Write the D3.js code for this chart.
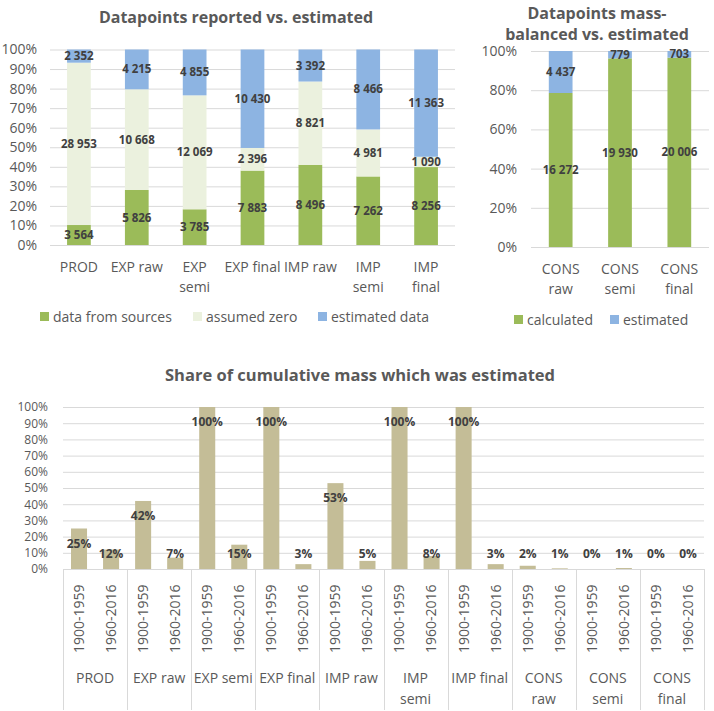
<!DOCTYPE html>
<html><head><meta charset="utf-8">
<script src="https://cdn.jsdelivr.net/npm/d3@7"></script>
<style>
body{margin:0;background:#fff;}
svg{display:block;font-family:"Open Sans",sans-serif;}
</style></head>
<body><svg id="c" width="714" height="711"></svg>
<script>
// ---- Chart 1: Datapoints reported vs. estimated ----
const cats1 = ["PROD","EXP raw","EXP semi","EXP final","IMP raw","IMP semi","IMP final"];
const fromSources = [3564,5826,3785,7883,8496,7262,8256];
const assumedZero = [28953,10668,12069,2396,8821,4981,1090];
const estimatedData = [2352,4215,4855,10430,3392,8466,11363];
const series1Names = ["data from sources","assumed zero","estimated data"];
const wrap1 = ["EXP semi","IMP semi","IMP final"];
const ticks1 = [0,0.1,0.2,0.3,0.4,0.5,0.6,0.7,0.8,0.9,1];

// ---- Chart 2: Datapoints mass-balanced vs. estimated ----
const cats2 = ["CONS raw","CONS semi","CONS final"];
const calculated = [16272,19930,20006];
const estimated2 = [4437,779,703];
const series2Names = ["calculated","estimated"];
const ticks2 = [0,0.2,0.4,0.6,0.8,1];

// ---- Chart 3: Share of cumulative mass which was estimated ----
const groups3 = ["PROD","EXP raw","EXP semi","EXP final","IMP raw","IMP semi","IMP final","CONS raw","CONS semi","CONS final"];
const wrap3 = ["IMP semi","CONS raw","CONS semi","CONS final"];
const periods = ["1900-1959","1960-2016"];
const share = [0.25,0.12, 0.42,0.07, 1.00,0.15, 1.00,0.03, 0.53,0.05, 1.00,0.08, 1.00,0.03, 0.02,0.01, 0.00,0.01, 0.00,0.00];
const shareLabels = ["25%","12%","42%","7%","100%","15%","100%","3%","53%","5%","100%","8%","100%","3%","2%","1%","0%","1%","0%","0%"];
// bar heights as visible in the picture (small values)
const shareBar = [0.25,0.12, 0.42,0.07, 1.00,0.15, 1.00,0.03, 0.53,0.05, 1.00,0.08, 1.00,0.03, 0.02,0.004, 0.0,0.006, 0.0,0.0];
const ticks3 = [0,0.1,0.2,0.3,0.4,0.5,0.6,0.7,0.8,0.9,1];

const GREEN="#9BBB59", LIGHT="#EBF1DE", BLUE="#8DB4E2", TAN="#C4BD97";
const GRID="#D9D9D9", AXT="#595959", LAB="#404040";
const fmt = v => d3.format(",")(v).replace(/,/g," ");
const pct = d3.format(".0%");

const svg = d3.select("#c");

function title(g, lines, x, y, lh, fs){
  lines.forEach((t,i)=>g.append("text").attr("x",x).attr("y",y+i*lh)
    .attr("text-anchor","middle").attr("font-size",fs).attr("font-weight","bold")
    .attr("fill",AXT).text(t));
}
function legend(g, items, y){
  items.forEach(it=>{
    g.append("rect").attr("x",it.x).attr("y",y-5).attr("width",9).attr("height",9).attr("fill",it.c);
    g.append("text").attr("x",it.x+13).attr("y",y).attr("dy","0.35em").attr("font-size",14)
      .attr("fill",AXT).text(it.t);
  });
}
function stacked(cfg){
  const g = svg.append("g");
  const x = d3.scaleBand().domain(cfg.cats).range([cfg.x0,cfg.x1]).paddingInner(cfg.pad).paddingOuter(cfg.pad/2);
  const y = d3.scaleLinear().domain([0,1]).range([cfg.y0,cfg.y1]);
  g.append("g").selectAll("line").data(cfg.ticks).join("line")
    .attr("x1",cfg.x0).attr("x2",cfg.x1).attr("y1",d=>y(d)+0.5).attr("y2",d=>y(d)+0.5)
    .attr("stroke",GRID).attr("stroke-width",1);
  const yAx = d3.axisLeft(y).tickValues(cfg.ticks).tickFormat(pct).tickSize(0).tickPadding(0);
  const ya = g.append("g").attr("transform",`translate(${cfg.labX},0)`).call(yAx);
  ya.select(".domain").remove();
  ya.selectAll("text").attr("font-size",14).attr("fill",AXT).attr("font-family","Open Sans");
  const rows = cfg.cats.map((c,i)=>{const o={cat:c}; cfg.keys.forEach((k,j)=>o[k]=cfg.vals[j][i]); return o;});
  const st = d3.stack().keys(cfg.keys).offset(d3.stackOffsetExpand)(rows);
  st.forEach((layer,j)=>{
    g.append("g").selectAll("rect").data(layer).join("rect")
      .attr("x",d=>x(d.data.cat)).attr("width",x.bandwidth())
      .attr("y",d=>y(d[1])).attr("height",d=>y(d[0])-y(d[1])).attr("fill",cfg.colors[j]);
  });
  st.forEach((layer,j)=>{
    g.append("g").selectAll("text").data(layer).join("text")
      .attr("x",d=>x(d.data.cat)+x.bandwidth()/2).attr("y",d=>y((d[0]+d[1])/2))
      .attr("dy","0.35em").attr("text-anchor","middle").attr("font-size",11.5)
      .attr("font-weight","bold").attr("fill",LAB).text(d=>fmt(d.data[layer.key]));
  });
  cfg.cats.forEach(c=>{
    const lines = cfg.wrap.includes(c) ? c.split(" ") : [c];
    lines.forEach((t,i)=>g.append("text").attr("x",x(c)+x.bandwidth()/2).attr("y",cfg.catY+i*20)
      .attr("dy","0.35em").attr("text-anchor","middle").attr("font-size",14).attr("fill",AXT).text(t));
  });
  return g;
}

// Chart 1
const g1 = stacked({cats:cats1, keys:series1Names, vals:[fromSources,assumedZero,estimatedData],
  colors:[GREEN,LIGHT,BLUE], x0:50, x1:455, y0:245, y1:49.5, pad:0.59, ticks:ticks1, labX:37,
  wrap:wrap1, catY:267});
title(g1,["Datapoints reported vs. estimated"],236,23,20,16);
legend(g1,[{x:40,c:GREEN,t:series1Names[0]},{x:193,c:LIGHT,t:series1Names[1]},{x:318,c:BLUE,t:series1Names[2]}],317);

// Chart 2
const g2 = stacked({cats:cats2, keys:series2Names, vals:[calculated,estimated2],
  colors:[GREEN,BLUE], x0:531, x1:709, y0:247, y1:51, pad:0.6, ticks:ticks2, labX:517,
  wrap:cats2, catY:269});
title(g2,["Datapoints mass-","balanced vs. estimated"],597,18.5,21,16);
legend(g2,[{x:514,c:GREEN,t:series2Names[0]},{x:610,c:BLUE,t:series2Names[1]}],320);

// Chart 3
(function(){
  const g = svg.append("g");
  const X0=63, X1=704, Y0=569, Y1=407;
  const gx = d3.scaleBand().domain(groups3).range([X0,X1]);
  const sx = d3.scaleBand().domain(periods).range([0,gx.bandwidth()]).paddingInner(0.5).paddingOuter(0.25);
  const y = d3.scaleLinear().domain([0,1]).range([Y0,Y1]);
  g.append("g").selectAll("line").data(ticks3).join("line")
    .attr("x1",X0).attr("x2",X1).attr("y1",d=>y(d)+0.5).attr("y2",d=>y(d)+0.5)
    .attr("stroke",GRID);
  const ya = g.append("g").attr("transform","translate(48,0)")
    .call(d3.axisLeft(y).tickValues(ticks3).tickFormat(pct).tickSize(0).tickPadding(0));
  ya.select(".domain").remove();
  ya.selectAll("text").attr("font-size",12).attr("fill",AXT).attr("font-family","Open Sans");
  const data = [];
  groups3.forEach((gr,i)=>periods.forEach((p,j)=>{const k=i*2+j;
    data.push({gr,p,v:shareBar[k],lab:shareLabels[k],val:share[k]});}));
  g.append("g").selectAll("rect").data(data).join("rect")
    .attr("x",d=>gx(d.gr)+sx(d.p)).attr("width",sx.bandwidth())
    .attr("y",d=>y(d.v)).attr("height",d=>Y0-y(d.v)).attr("fill",TAN);
  g.append("g").selectAll("text").data(data).join("text")
    .attr("x",d=>gx(d.gr)+sx(d.p)+sx.bandwidth()/2)
    .attr("y",d=>Math.min(y(d.val)+15, Y0-15)).attr("dy","0.35em")
    .attr("text-anchor","middle").attr("font-size",12).attr("font-weight","bold")
    .attr("fill",LAB).text(d=>d.lab);
  g.append("line").attr("x1",X0).attr("x2",X1).attr("y1",Y0+0.5).attr("y2",Y0+0.5).attr("stroke",GRID);
  const seps = groups3.map(d=>gx(d)).concat([X1]);
  g.append("g").selectAll("line").data(seps).join("line")
    .attr("x1",d=>Math.round(d)+0.5).attr("x2",d=>Math.round(d)+0.5).attr("y1",Y0).attr("y2",710)
    .attr("stroke",GRID);
  g.append("g").selectAll("text").data(data).join("text")
    .attr("transform",d=>`translate(${gx(d.gr)+sx(d.p)+sx.bandwidth()/2},653) rotate(-90)`)
    .attr("dy","0.35em").attr("font-size",14).attr("fill",AXT).text(d=>d.p);
  groups3.forEach(gr=>{
    const lines = wrap3.includes(gr) ? gr.split(" ") : [gr];
    lines.forEach((t,i)=>g.append("text").attr("x",gx(gr)+gx.bandwidth()/2).attr("y",678+i*21)
      .attr("dy","0.35em").attr("text-anchor","middle").attr("font-size",14).attr("fill",AXT).text(t));
  });
  g.append("text").attr("x",360).attr("y",381).attr("text-anchor","middle").attr("font-size",16.5)
    .attr("font-weight","bold").attr("fill",AXT).text("Share of cumulative mass which was estimated");
})();
</script></body></html>
